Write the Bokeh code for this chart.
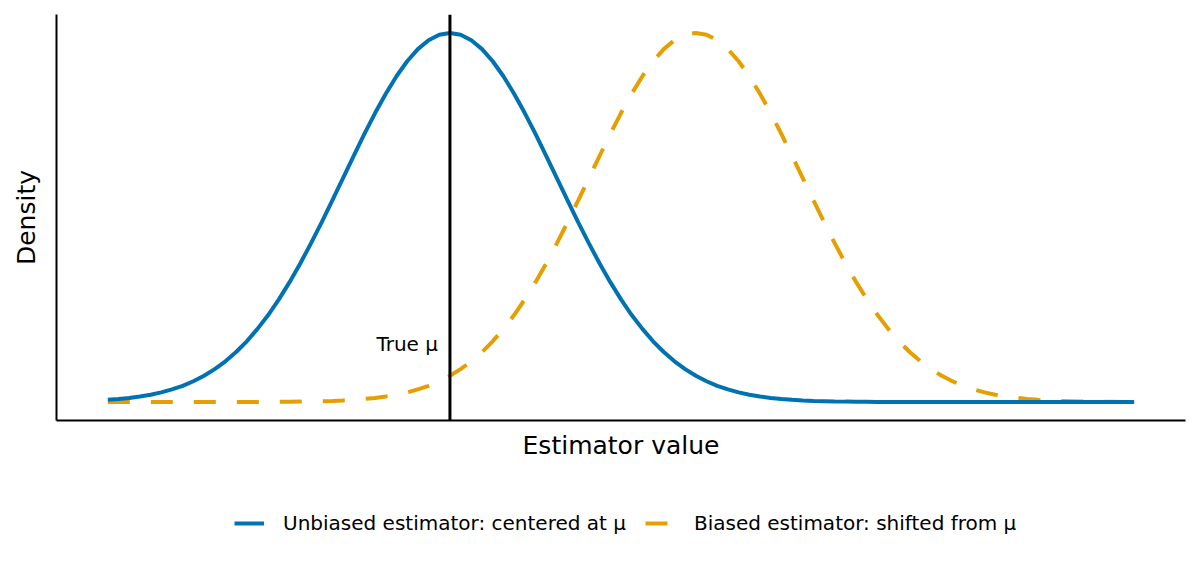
from bokeh.plotting import figure
from bokeh.models import Range1d, Span, Legend, LegendItem, Label
from bokeh.layouts import column
from bokeh.embed import file_html
from bokeh.resources import INLINE

# estimator value axis (true mu at 0)
x = [-3.2, -3.1, -3.0, -2.9, -2.8, -2.7, -2.6, -2.5, -2.4, -2.3,
     -2.2, -2.1, -2.0, -1.9, -1.8, -1.7, -1.6, -1.5, -1.4, -1.3,
     -1.2, -1.1, -1.0, -0.9, -0.8, -0.7, -0.6, -0.5, -0.4, -0.3,
     -0.2, -0.1, 0.0, 0.1, 0.2, 0.3, 0.4, 0.5, 0.6, 0.7,
     0.8, 0.9, 1.0, 1.1, 1.2, 1.3, 1.4, 1.5, 1.6, 1.7,
     1.8, 1.9, 2.0, 2.1, 2.2, 2.3, 2.4, 2.5, 2.6, 2.7,
     2.8, 2.9, 3.0, 3.1, 3.2, 3.3, 3.4, 3.5, 3.6, 3.7,
     3.8, 3.9, 4.0, 4.1, 4.2, 4.3, 4.4, 4.5, 4.6, 4.7,
     4.8, 4.9, 5.0, 5.1, 5.2, 5.3, 5.4, 5.5, 5.6, 5.7,
     5.8, 5.9, 6.0, 6.1, 6.2, 6.3, 6.4]

# density of the unbiased estimator (centered at mu)
unbiased = [0.0024, 0.0033, 0.0044, 0.0060, 0.0079, 0.0104, 0.0136, 0.0175, 0.0224, 0.0283,
            0.0355, 0.0440, 0.0540, 0.0656, 0.0790, 0.0940, 0.1109, 0.1295, 0.1497, 0.1714,
            0.1942, 0.2179, 0.2420, 0.2661, 0.2897, 0.3123, 0.3332, 0.3521, 0.3683, 0.3814,
            0.3910, 0.3970, 0.3989, 0.3970, 0.3910, 0.3814, 0.3683, 0.3521, 0.3332, 0.3123,
            0.2897, 0.2661, 0.2420, 0.2179, 0.1942, 0.1714, 0.1497, 0.1295, 0.1109, 0.0940,
            0.0790, 0.0656, 0.0540, 0.0440, 0.0355, 0.0283, 0.0224, 0.0175, 0.0136, 0.0104,
            0.0079, 0.0060, 0.0044, 0.0033, 0.0024, 0.0017, 0.0012, 0.0009, 0.0006, 0.0004,
            0.0003, 0.0002, 0.0001, 0.0001, 0.0001, 0.0, 0.0, 0.0, 0.0, 0.0,
            0.0, 0.0, 0.0, 0.0, 0.0, 0.0, 0.0, 0.0, 0.0, 0.0,
            0.0, 0.0, 0.0, 0.0, 0.0, 0.0, 0.0]

# density of the biased estimator (shifted to the right)
biased = [0.0, 0.0, 0.0, 0.0, 0.0, 0.0, 0.0, 0.0, 0.0, 0.0,
          0.0, 0.0, 0.0, 0.0001, 0.0001, 0.0001, 0.0002, 0.0003, 0.0004, 0.0006,
          0.0009, 0.0012, 0.0017, 0.0024, 0.0033, 0.0044, 0.0060, 0.0079, 0.0104, 0.0136,
          0.0175, 0.0224, 0.0283, 0.0355, 0.0440, 0.0540, 0.0656, 0.0790, 0.0940, 0.1109,
          0.1295, 0.1497, 0.1714, 0.1942, 0.2179, 0.2420, 0.2661, 0.2897, 0.3123, 0.3332,
          0.3521, 0.3683, 0.3814, 0.3910, 0.3970, 0.3989, 0.3970, 0.3910, 0.3814, 0.3683,
          0.3521, 0.3332, 0.3123, 0.2897, 0.2661, 0.2420, 0.2179, 0.1942, 0.1714, 0.1497,
          0.1295, 0.1109, 0.0940, 0.0790, 0.0656, 0.0540, 0.0440, 0.0355, 0.0283, 0.0224,
          0.0175, 0.0136, 0.0104, 0.0079, 0.0060, 0.0044, 0.0033, 0.0024, 0.0017, 0.0012,
          0.0009, 0.0006, 0.0004, 0.0003, 0.0002, 0.0001, 0.0001]

true_mu = 0.0
label_y = 0.06
labels = ["Unbiased estimator: centered at \u03bc", "Biased estimator: shifted from \u03bc"]

FONT = "DejaVu Sans"
BLUE = "#0072B2"
ORANGE = "#E69F00"

p = figure(width=1200, height=470,
           x_range=Range1d(-3.68, 6.88), y_range=Range1d(-0.02, 0.4188),
           output_backend="svg", toolbar_location=None,
           min_border_left=56, min_border_right=15,
           min_border_top=14, min_border_bottom=50)

p.line(x, biased, line_color=ORANGE, line_width=4, line_dash="22 21")
p.line(x, unbiased, line_color=BLUE, line_width=4)

p.add_layout(Span(location=true_mu, dimension="height", line_color="black", line_width=3))
p.add_layout(Label(x=true_mu, y=label_y, x_offset=-12, y_offset=2, text="True \u03bc",
                   text_align="right", text_baseline="middle",
                   text_font=FONT, text_font_size="20px", text_color="black"))

# axes: lines only, no ticks
for ax in (p.xaxis, p.yaxis):
    ax.ticker = []
    ax.major_tick_line_color = None
    ax.minor_tick_line_color = None
    ax.major_tick_out = 0
    ax.major_label_standoff = 0
    ax.axis_line_color = "black"
    ax.axis_line_width = 2
    ax.axis_label_text_font = FONT
    ax.axis_label_text_font_size = "25px"
    ax.axis_label_text_font_style = "normal"
    ax.axis_label_text_color = "black"
p.xaxis.axis_label = "Estimator value"
p.yaxis.axis_label = "Density"
p.xaxis.axis_label_standoff = 10
p.yaxis.axis_label_standoff = 16

p.xgrid.grid_line_color = None
p.ygrid.grid_line_color = None
p.outline_line_color = None

# legend strip under the plot (its lines sit outside the visible range)
leg = figure(width=1200, height=100, x_range=Range1d(100, 101), y_range=Range1d(100, 101),
             output_backend="svg", toolbar_location=None,
             x_axis_location=None, y_axis_location=None,
             min_border=0)
leg.grid.grid_line_color = None
leg.outline_line_color = None
r_u = leg.line(x, unbiased, line_color=BLUE, line_width=4)
r_b = leg.line(x, biased, line_color=ORANGE, line_width=4, line_dash="22 21")

legend = Legend(items=[LegendItem(label=labels[0], renderers=[r_u]),
                       LegendItem(label=labels[1], renderers=[r_b])],
                orientation="horizontal", location=(178, 35),
                glyph_width=30, glyph_height=20, label_standoff=19, spacing=19,
                label_text_font=FONT, label_text_font_size="20px",
                label_text_color="black",
                border_line_color=None, background_fill_alpha=0,
                padding=5, margin=0)
leg.add_layout(legend)

open("out.html", "w").write(file_html(column(p, leg, spacing=0), INLINE))
